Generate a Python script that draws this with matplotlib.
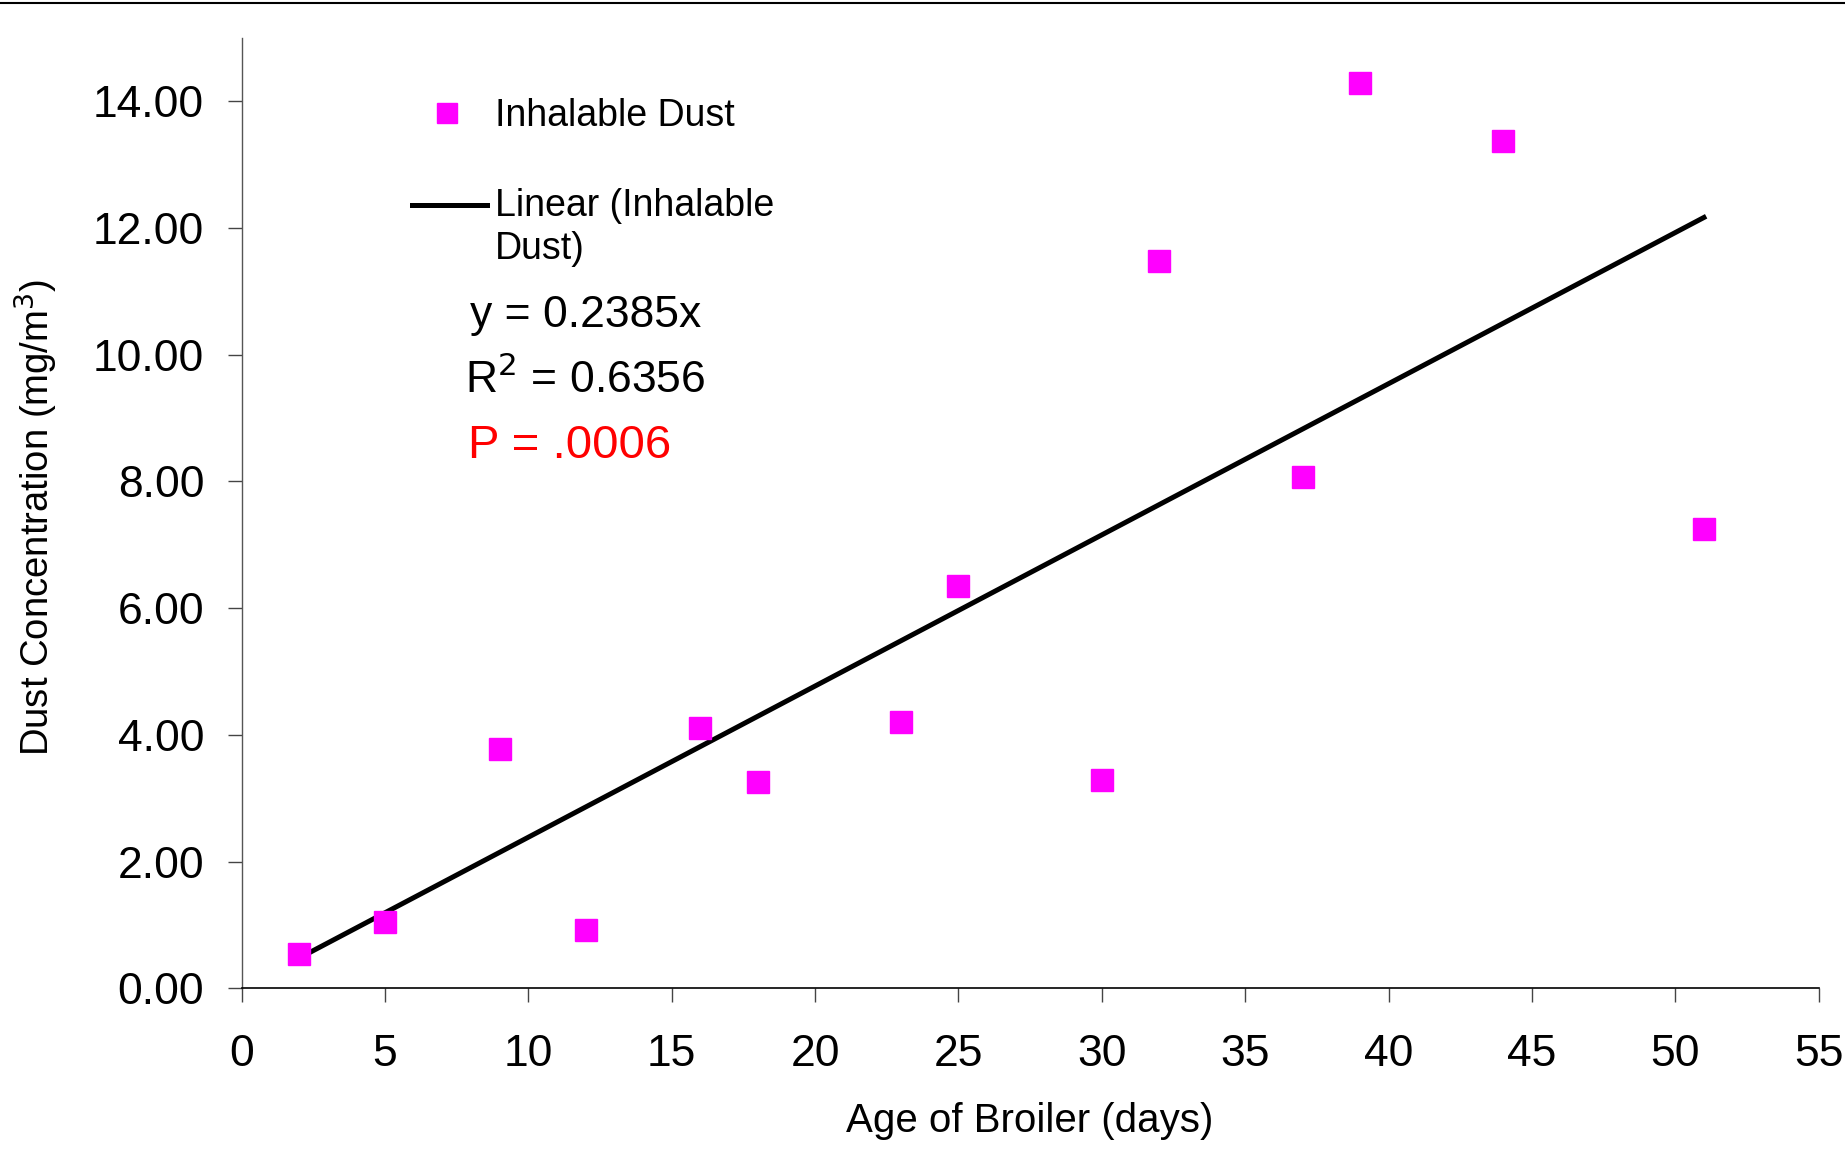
import matplotlib
matplotlib.use("Agg")
import matplotlib.pyplot as plt
from matplotlib.lines import Line2D
import numpy as np

plt.rcParams['font.family'] = ['Liberation Sans', 'DejaVu Sans']

# Data
age_days = [2, 5, 9, 12, 16, 18, 23, 25, 30, 32, 37, 39, 44, 51]
inhalable_dust = [0.54, 1.05, 3.77, 0.92, 4.11, 3.25, 4.20, 6.35, 3.29, 11.48, 8.07, 14.28, 13.37, 7.25]
trend_slope = 0.2385
r_squared = 0.6356
p_value_text = "P = .0006"
x_ticks = [0, 5, 10, 15, 20, 25, 30, 35, 40, 45, 50, 55]
y_ticks = [0, 2, 4, 6, 8, 10, 12, 14]

fig = plt.figure(figsize=(18.45, 11.67), dpi=100)
ax = fig.add_axes([0.131, 0.1531, 0.8547, 0.8146])

x = np.array(age_days, dtype=float)
y = np.array(inhalable_dust, dtype=float)

ax.plot(x, y, linestyle='none', marker='s', markersize=16.5,
        markerfacecolor='#FF00FF', markeredgecolor='#FF00FF', zorder=3,
        label='Inhalable Dust')
xl = np.array([x.min(), x.max()])
ax.plot(xl, trend_slope * xl, color='black', linewidth=3.6, zorder=2,
        label='Linear (Inhalable\nDust)')

ax.set_xlim(0, 55)
ax.set_ylim(0, 15)
ax.set_xticks(x_ticks)
ax.set_yticks(y_ticks)
ax.set_yticklabels([f"{v:.2f}" for v in y_ticks])
ax.set_xticklabels([str(v) for v in x_ticks])

for s in ['top', 'right']:
    ax.spines[s].set_visible(False)
ax.spines['left'].set_color('#555555')
ax.spines['left'].set_linewidth(1.0)
ax.spines['bottom'].set_color('black')
ax.spines['bottom'].set_linewidth(1.2)

ax.tick_params(axis='x', direction='out', length=10, width=1.0, color='#444444',
               labelsize=32, pad=23)
ax.tick_params(axis='y', direction='out', length=10, width=1.0, color='#444444',
               labelsize=32, pad=17)

ax.set_xlabel('Age of Broiler (days)', fontsize=29)
ax.set_ylabel('Dust Concentration (mg/m$^3$)', fontsize=27.5)
ax.xaxis.set_label_coords(0.5, -0.12)
ax.yaxis.set_label_coords(-0.115, 0.495)

def figxy(px, py):
    return (px / 1845.0, 1 - py / 1167.0)

fig.add_artist(Line2D([figxy(447, 0)[0]], [figxy(0, 113)[1]], marker='s', markersize=15,
                      markerfacecolor='#FF00FF', markeredgecolor='#FF00FF',
                      linestyle='none', transform=fig.transFigure))
fig.text(*figxy(495, 116), 'Inhalable Dust', fontsize=27, va='center', ha='left')
fig.add_artist(Line2D([figxy(412, 0)[0], figxy(487, 0)[0]], [figxy(0, 205)[1]] * 2,
                      color='black', linewidth=3.6, transform=fig.transFigure))
fig.text(*figxy(495, 206), 'Linear (Inhalable', fontsize=27, va='center', ha='left')
fig.text(*figxy(495, 249), 'Dust)', fontsize=27, va='center', ha='left')

fig.text(*figxy(470, 316), f'y = {trend_slope:.4f}x', fontsize=32, va='center', ha='left')
fig.text(*figxy(465, 380), f'R$^2$ = {r_squared:.4f}', fontsize=32, va='center', ha='left')
fig.text(*figxy(468, 446), p_value_text, fontsize=34, va='center', ha='left', color='#FF0000')

# top border line
fig.add_artist(Line2D([0, 1], [1 - 2.5 / 1167.0] * 2, color='black', linewidth=1.5,
                      transform=fig.transFigure))

fig.savefig('out.png', dpi=100)
